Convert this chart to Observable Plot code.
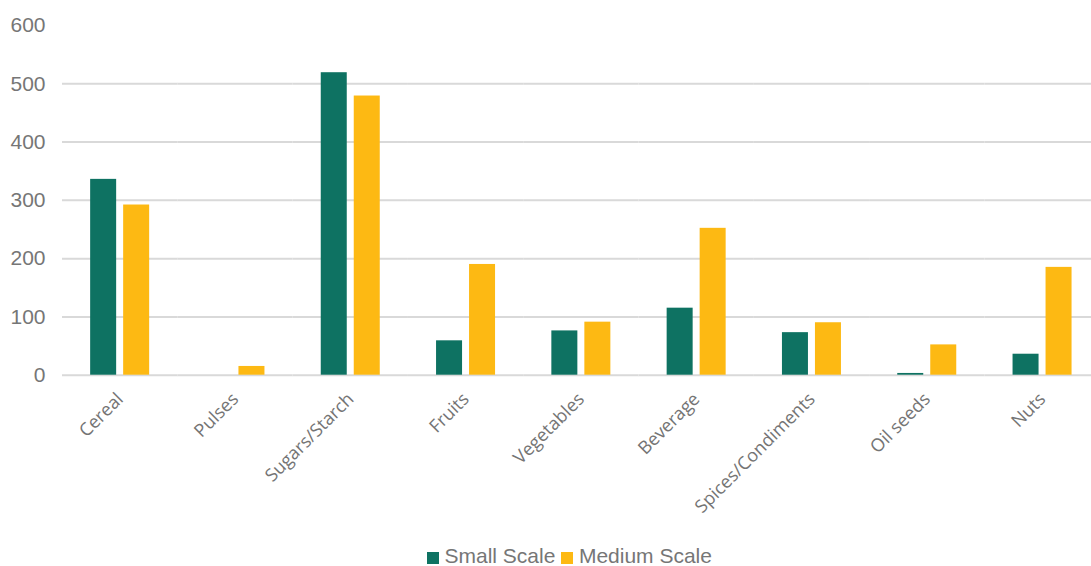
<!DOCTYPE html>
<html>
<head>
<meta charset="utf-8">
<script src="https://cdn.jsdelivr.net/npm/d3@7"></script>
<script src="https://cdn.jsdelivr.net/npm/@observablehq/plot@0.6"></script>
<style>
  html, body { margin: 0; padding: 0; background: #fff; }
  #wrap { position: relative; width: 1091px; height: 566px; overflow: hidden; }
  #legend { position: absolute; left: 427px; top: 546px; display: flex; align-items: center;
            font-family: "Liberation Sans", Arial, sans-serif; font-size: 21px; color: #767676; line-height: 20px; }
  .sw { width: 11.5px; height: 11.5px; display: inline-block; margin-top: 4px; }
</style>
</head>
<body>
<div id="wrap"><div id="chart"></div><div id="legend"></div></div>
<script>
const categories = ["Cereal","Pulses","Sugars/Starch","Fruits","Vegetables","Beverage","Spices/Condiments","Oil seeds","Nuts"];
const series = ["Small Scale","Medium Scale"];
const smallScale = [336, 0, 519, 59, 76, 115, 73, 3, 36];
const mediumScale = [292, 15, 479, 190, 91, 252, 90, 52, 185];
const yTicks = [0, 100, 200, 300, 400, 500, 600];
const gridTicks = [0, 100, 200, 300, 400, 500];
const colors = ["#0e7262", "#fdb913"];

const data = categories.flatMap((c, i) => [
  {category: c, series: series[0], value: smallScale[i]},
  {category: c, series: series[1], value: mediumScale[i]}
]);

const W = 1091, H = 540;
const left = 62, step = 115.3;

const chart = Plot.plot({
  width: W,
  height: H,
  marginLeft: left,
  marginRight: 0,
  marginTop: 25,
  marginBottom: H - 374.7,
  style: {fontFamily: "Liberation Sans, Arial, sans-serif", background: "#fff"},
  fx: {domain: categories, range: [left, left + categories.length * step], paddingInner: 0, paddingOuter: 0, round: false, label: null},
  x: {domain: series, paddingInner: 7 / 33, paddingOuter: 0.853, round: false, axis: null},
  y: {domain: [0, 600], axis: null},
  color: {domain: series, range: colors},
  marks: [
    Plot.ruleY(gridTicks, {stroke: "#d9d9d9", strokeWidth: 2}),
    Plot.barY(data, {fx: "category", x: "series", y: "value", fill: "series"}),
    Plot.axisY(yTicks, {anchor: "left", tickSize: 0, tickPadding: 17, fontSize: 21, fill: "#767676", label: null}),
    Plot.axisFx({anchor: "bottom", tickRotate: -45, tickSize: 0, tickPadding: 21, fontSize: 18, fontFamily: "Open Sans", fill: "#747474", label: null})
  ]
});
document.getElementById("chart").appendChild(chart);

const legend = document.getElementById("legend");
series.forEach((s, i) => {
  const sw = document.createElement("span");
  sw.className = "sw";
  sw.style.background = colors[i];
  sw.style.marginRight = "6px";
  if (i > 0) sw.style.marginLeft = "6px";
  const t = document.createElement("span");
  t.textContent = s;
  legend.appendChild(sw);
  legend.appendChild(t);
});
</script>
</body>
</html>
